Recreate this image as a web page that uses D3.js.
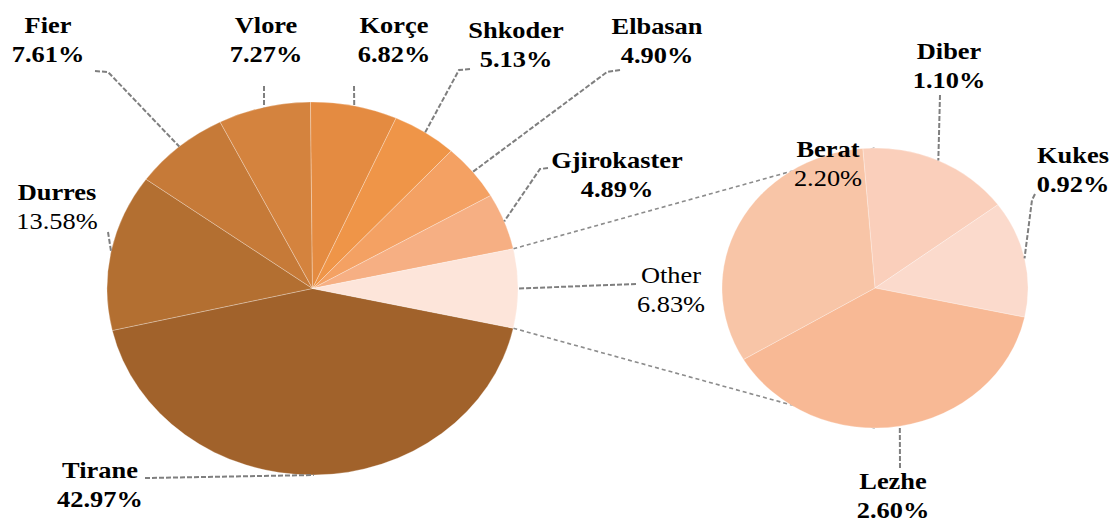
<!DOCTYPE html>
<html>
<head>
<meta charset="utf-8">
<script src="https://cdn.jsdelivr.net/npm/d3@7"></script>
<style>
  body { margin: 0; background: #fff; }
  text { font-family: "Liberation Serif", "Times New Roman", serif; fill: #000; }
</style>
</head>
<body>
<script>
// main pie, clockwise from the bottom edge of "Other"
const mainNames = ["Tirane", "Durres", "Fier", "Vlore", "Korçe", "Shkoder", "Elbasan", "Gjirokaster", "Other"];
const mainValues = [42.97, 13.58, 7.61, 7.27, 6.82, 5.13, 4.90, 4.89, 6.83];
const mainColors = ["#a1622b", "#b36f31", "#c67a38", "#d4833e", "#e48b41", "#ef9548", "#f4a163", "#f6af83", "#fde5da"];

// second pie (breakdown of "Other"), clockwise from top
const subNames = ["Diber", "Kukes", "Lezhe", "Berat"];
const subValues = [1.10, 0.92, 2.60, 2.20];
const subColors = ["#facfbb", "#fbdacc", "#f8b995", "#f8c5a7"];

const width = 1116, height = 520;

// label placement (name baseline), leader start points
const labelPos = {
  "Tirane":      {x: 100, y: 478, leader: [[145, 478]]},
  "Durres":      {x: 57,  y: 200, leader: [[108, 232]], pctBold: false},
  "Fier":        {x: 48,  y: 33,  leader: [[95, 71], [108, 72]]},
  "Vlore":       {x: 266, y: 33,  leader: [[264, 86]]},
  "Korçe":       {x: 394, y: 33,  leader: [[354, 86]]},
  "Shkoder":     {x: 516, y: 38,  leader: [[470, 69], [459, 70]]},
  "Elbasan":     {x: 657, y: 34,  leader: [[620, 70], [607, 72]]},
  "Gjirokaster": {x: 617, y: 168, leader: [[548, 168], [540, 169]]},
  "Other":       {x: 671, y: 283, leader: [[636, 284]], nameBold: false, pctBold: false},
  "Diber":       {x: 949, y: 59,  leader: [[940, 95]]},
  "Kukes":       {x: 1073, y: 163, leader: [[1035, 194], [1032, 200]]},
  "Lezhe":       {x: 893, y: 489, leader: [[900, 468]]},
  "Berat":       {x: 828, y: 157, leader: [], pctBold: false}
};

const main = {cx: 312.5, cy: 288.5, rx: 205.5, ry: 186.5};
const sub = {cx: 875, cy: 288, rx: 153, ry: 140};

const svg = d3.select("body").append("svg")
  .attr("width", width)
  .attr("height", height);

const otherIdx = mainNames.indexOf("Other");
const mainTotal = d3.sum(mainValues);
const otherSpan = 2 * Math.PI * mainValues[otherIdx] / mainTotal;
const mainStart = Math.PI / 2 + otherSpan / 2;

const mainPie = d3.pie().sort(null).value(d => d.v)
  .startAngle(mainStart).endAngle(mainStart + 2 * Math.PI);
const subStart = -0.08;
const subPie = d3.pie().sort(null).value(d => d.v)
  .startAngle(subStart).endAngle(subStart + 2 * Math.PI);

const mainArcs = mainPie(mainNames.map((n, i) => ({name: n, v: mainValues[i], c: mainColors[i]})));
const subArcs = subPie(subNames.map((n, i) => ({name: n, v: subValues[i], c: subColors[i]})));

function edgePoint(p, a) {
  return [p.cx + p.rx * Math.sin(a), p.cy - p.ry * Math.cos(a)];
}

// series lines from "Other" to the second pie (drawn first so the pie covers them)
// startAngle of "Other" is its upper edge, endAngle its lower edge
const otherArc = mainArcs[otherIdx];
const conn = [
  [edgePoint(main, otherArc.startAngle), [sub.cx, sub.cy - sub.ry]],
  [edgePoint(main, otherArc.endAngle), [sub.cx, sub.cy + sub.ry]]
];
svg.selectAll(".conn").data(conn).enter().append("path")
  .attr("class", "conn")
  .attr("d", d => d3.line()(d))
  .attr("fill", "none")
  .attr("stroke", "#8c8c8c")
  .attr("stroke-width", 1.6)
  .attr("stroke-dasharray", "4,3");

function drawPie(arcs, p) {
  const arc = d3.arc().innerRadius(0).outerRadius(p.rx);
  svg.append("g")
    .attr("transform", `translate(${p.cx},${p.cy}) scale(1,${p.ry / p.rx})`)
    .selectAll("path").data(arcs).enter().append("path")
    .attr("d", arc)
    .attr("fill", d => d.data.c)
    .attr("stroke", "#ffffff")
    .attr("stroke-opacity", 0.35)
    .attr("stroke-width", 0.8)
    .attr("vector-effect", "non-scaling-stroke");
}
drawPie(mainArcs, main);
drawPie(subArcs, sub);

// leaders and labels
const fmt = d3.format(".2f");
const labelled = mainArcs.map(a => ({a, p: main})).concat(subArcs.map(a => ({a, p: sub})));

labelled.forEach(({a, p}) => {
  const lp = labelPos[a.data.name];
  if (lp.leader.length) {
    const end = edgePoint(p, (a.startAngle + a.endAngle) / 2);
    svg.append("path")
      .attr("d", d3.line()(lp.leader.concat([end])))
      .attr("fill", "none")
      .attr("stroke", "#7f7f7f")
      .attr("stroke-width", 2)
      .attr("stroke-dasharray", "5,2");
  }
  const t = svg.append("g")
    .attr("transform", `translate(${lp.x},${lp.y}) scale(1.1,1)`);
  t.append("text")
    .attr("text-anchor", "middle")
    .attr("font-size", 24)
    .attr("font-weight", lp.nameBold === false ? "normal" : "bold")
    .text(a.data.name);
  t.append("text")
    .attr("text-anchor", "middle")
    .attr("y", 29)
    .attr("font-size", 24)
    .attr("font-weight", lp.pctBold === false ? "normal" : "bold")
    .text(fmt(a.data.v) + "%");
});
</script>
</body>
</html>
